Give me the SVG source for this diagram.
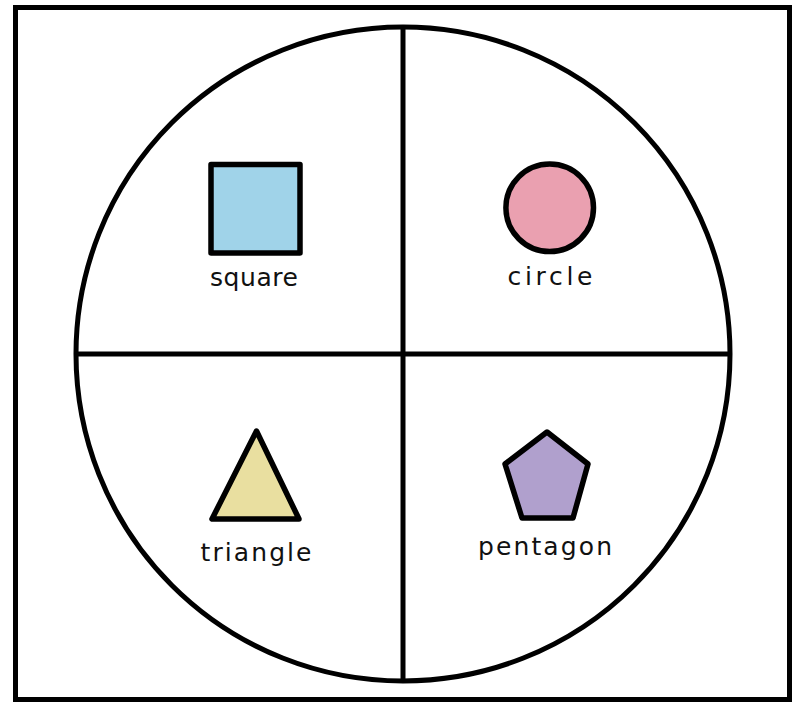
<svg xmlns="http://www.w3.org/2000/svg" width="797" height="702" viewBox="0 0 797 702">
<style>
.ln{fill:none;stroke:#000;stroke-width:5}
.sh{stroke:#000;stroke-width:5.5;stroke-linejoin:round}
.lb{font-family:"Comic Sans MS","DejaVu Sans","Liberation Sans",sans-serif;font-size:25px;fill:#111;text-anchor:middle}
</style>
<rect width="797" height="702" fill="#fff"/>
<g id="frame">
<rect class="ln" x="15.5" y="7.5" width="774" height="692"/>
<circle class="ln" cx="403" cy="354" r="327"/>
</g>
<g id="connectors">
<line class="ln" x1="403" y1="27" x2="403" y2="681"/>
<line class="ln" x1="76" y1="354" x2="730" y2="354"/>
</g>
<g id="square">
<rect class="sh" x="211" y="164.5" width="89" height="88.5" fill="#a0d3e9"/>
<text class="lb" x="254" y="286" textLength="88" lengthAdjust="spacing">square</text>
</g>
<g id="circle">
<circle class="sh" cx="549.7" cy="207.8" r="43.8" fill="#eaa0b0"/>
<text class="lb" x="550" y="285" textLength="85" lengthAdjust="spacing">circle</text>
</g>
<g id="triangle">
<polygon class="sh" points="256.5,431 212,519 299,519" fill="#e9dfa0"/>
<text class="lb" x="256" y="561" textLength="111" lengthAdjust="spacing">triangle</text>
</g>
<g id="pentagon">
<polygon class="sh" points="547,432 588,464 573,518 522,518 505,464" fill="#b0a0cd"/>
<text class="lb" x="545" y="555" textLength="134" lengthAdjust="spacing">pentagon</text>
</g>
</svg>
